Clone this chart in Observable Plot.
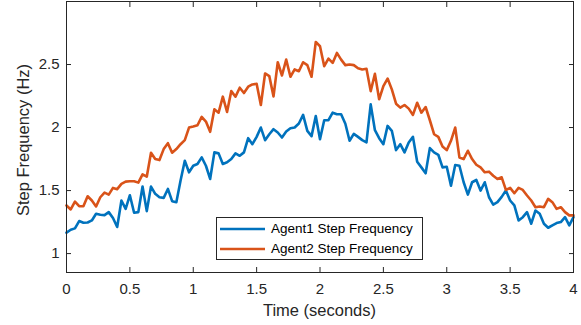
<!DOCTYPE html>
<html>
<head>
<meta charset="utf-8">
<script src="https://cdn.jsdelivr.net/npm/d3@7"></script>
<script src="https://cdn.jsdelivr.net/npm/@observablehq/plot@0.6"></script>
<style>
  body { margin: 0; background: #fff; }
  #chart { position: relative; width: 581px; height: 325px; font-family: "Liberation Sans", Arial, sans-serif; }
  #legend { position: absolute; left: 216px; top: 217px; width: 205px; height: 41px; border: 1px solid #262626; background: #fff; }
  .entry { position: absolute; left: 0; height: 18px; width: 205px; }
  .entry svg { position: absolute; left: 3px; top: 0; }
  .entry span { position: absolute; left: 54px; top: 0; line-height: 18px; font-size: 13.5px; color: #000; white-space: nowrap; }
</style>
</head>
<body>
<div id="chart"></div>
<script>
// Step frequency (Hz), sampled every 1/30 s from 0 to 4 s
const agent1 = [
  1.166, 1.189, 1.200, 1.258, 1.245, 1.247, 1.263, 1.316, 1.308, 1.305,
  1.329, 1.282, 1.211, 1.421, 1.355, 1.463, 1.324, 1.329, 1.532, 1.337,
  1.532, 1.474, 1.447, 1.442, 1.513, 1.416, 1.408, 1.579, 1.737, 1.645,
  1.697, 1.711, 1.763, 1.697, 1.592, 1.803, 1.795, 1.711, 1.724, 1.750,
  1.795, 1.776, 1.803, 1.916, 1.868, 1.926, 2.000, 1.900, 1.947, 1.987,
  1.961, 1.921, 1.968, 1.995, 2.000, 2.032, 2.100, 1.974, 1.932, 2.092,
  1.908, 2.058, 2.058, 2.118, 2.105, 2.105, 2.030, 1.895, 1.950, 1.926,
  1.900, 1.882, 2.184, 1.979, 1.916, 1.868, 2.013, 1.974, 1.821, 1.868,
  1.803, 1.882, 1.926, 1.729, 1.684, 1.637, 1.837, 1.803, 1.784, 1.684,
  1.689, 1.539, 1.703, 1.697, 1.566, 1.468, 1.566, 1.584, 1.500, 1.566,
  1.447, 1.389, 1.408, 1.450, 1.500, 1.421, 1.382, 1.263, 1.289, 1.329,
  1.237, 1.342, 1.316, 1.237, 1.205, 1.224, 1.242, 1.250, 1.289, 1.224,
  1.289
];
const agent2 = [
  1.382, 1.350, 1.413, 1.376, 1.376, 1.455, 1.421, 1.374, 1.447, 1.484,
  1.468, 1.521, 1.511, 1.553, 1.571, 1.574, 1.574, 1.563, 1.629, 1.610,
  1.800, 1.750, 1.742, 1.829, 1.876, 1.800, 1.829, 1.868, 1.900, 2.000,
  2.008, 2.018, 2.084, 2.047, 1.966, 2.145, 2.118, 2.245, 2.124, 2.289,
  2.245, 2.316, 2.274, 2.324, 2.342, 2.347, 2.179, 2.429, 2.408, 2.247,
  2.518, 2.413, 2.539, 2.403, 2.461, 2.447, 2.518, 2.495, 2.403, 2.679,
  2.645, 2.487, 2.547, 2.513, 2.592, 2.539, 2.495, 2.500, 2.495, 2.470,
  2.461, 2.466, 2.289, 2.426, 2.224, 2.329, 2.389, 2.303, 2.189, 2.158,
  2.179, 2.150, 2.100, 2.197, 2.118, 2.163, 2.058, 1.947, 1.926, 1.850,
  1.821, 1.895, 2.000, 1.763, 1.750, 1.816, 1.750, 1.705, 1.684, 1.645,
  1.650, 1.618, 1.592, 1.605, 1.505, 1.521, 1.479, 1.521, 1.505, 1.461,
  1.421, 1.368, 1.374, 1.368, 1.434, 1.408, 1.355, 1.368, 1.329, 1.303,
  1.303
];
const seriesNames = ["Agent1 Step Frequency", "Agent2 Step Frequency"];
const seriesColors = ["#0072BD", "#D95319"];
const xTicks = [0, 0.5, 1, 1.5, 2, 2.5, 3, 3.5, 4];
const yTicks = [1, 1.5, 2, 2.5];
const xLabel = "Time (seconds)";
const yLabel = "Step Frequency (Hz)";

const time = agent1.map((_, i) => i / 30);
const rows1 = agent1.map((v, i) => ({t: time[i], v}));
const rows2 = agent2.map((v, i) => ({t: time[i], v}));
const fmt = (d) => String(d);
const blank = () => "";
const tk = 5; // inward tick length

const svg = Plot.plot({
  width: 581,
  height: 325,
  marginLeft: 66,
  marginRight: 8,
  marginTop: 1,
  marginBottom: 53,
  x: {domain: [0, 4]},
  y: {domain: [0.85, 3]},
  style: {fontFamily: "'Liberation Sans', Arial, sans-serif", fontSize: "15px", color: "#262626", background: "white", overflow: "visible"},
  marks: [
    // tick labels
    Plot.axisX(xTicks, {anchor: "bottom", tickSize: 0, tickPadding: 11, tickFormat: fmt, label: null, fontSize: 15}),
    Plot.axisY(yTicks, {anchor: "left", tickSize: 0, tickPadding: 7, tickFormat: fmt, label: null, fontSize: 15}),
    // inward tick marks on all four sides
    Plot.axisX(xTicks, {anchor: "bottom", tickSize: tk, dy: -tk, tickFormat: blank, label: null}),
    Plot.axisX(xTicks, {anchor: "top", tickSize: tk, dy: tk, tickFormat: blank, label: null}),
    Plot.axisY(yTicks, {anchor: "left", tickSize: tk, dx: tk, tickFormat: blank, label: null}),
    Plot.axisY(yTicks, {anchor: "right", tickSize: tk, dx: -tk, tickFormat: blank, label: null}),
    Plot.line(rows1, {x: "t", y: "v", stroke: seriesColors[0], strokeWidth: 2.6, strokeLinejoin: "round"}),
    Plot.line(rows2, {x: "t", y: "v", stroke: seriesColors[1], strokeWidth: 2.6, strokeLinejoin: "round"}),
    Plot.frame({stroke: "#262626"})
  ]
});

const s = d3.select(svg);
s.append("text")
  .attr("x", 319.5).attr("y", 316)
  .attr("text-anchor", "middle")
  .attr("fill", "#262626")
  .style("font-size", "16.5px")
  .text(xLabel);
s.append("text")
  .attr("transform", "translate(29,140) rotate(-90)")
  .attr("text-anchor", "middle")
  .attr("fill", "#262626")
  .style("font-size", "16.5px")
  .text(yLabel);

const chart = document.getElementById("chart");
chart.appendChild(svg);

const legend = document.createElement("div");
legend.id = "legend";
seriesNames.forEach((name, k) => {
  const e = document.createElement("div");
  e.className = "entry";
  e.style.top = (k === 0 ? 2 : 21.5) + "px";
  e.innerHTML = `<svg width="46" height="18"><line x1="0" x2="45" y1="9" y2="9" stroke="${seriesColors[k]}" stroke-width="2.6"/></svg><span>${name}</span>`;
  legend.appendChild(e);
});
chart.appendChild(legend);
</script>
</body>
</html>
